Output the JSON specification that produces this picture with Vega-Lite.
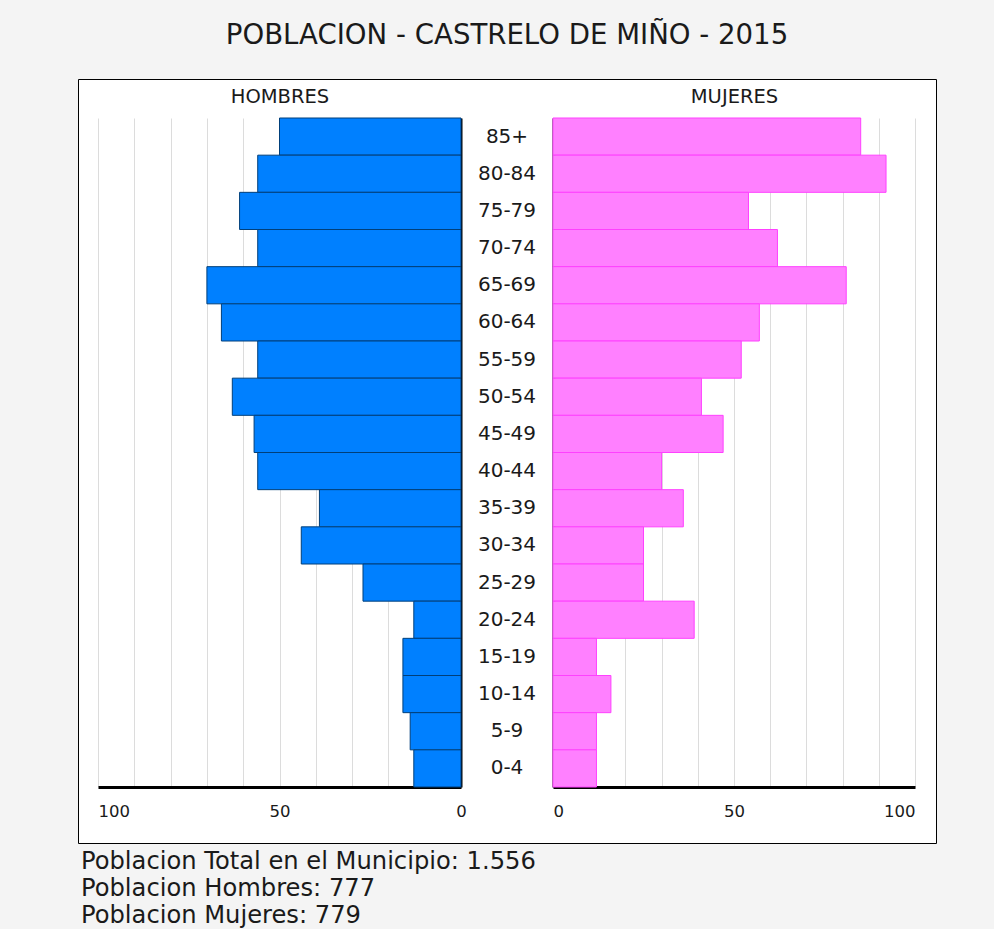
{
  "$schema": "https://vega.github.io/schema/vega-lite/v6.json",
  "background": "#f4f4f4",
  "padding": {"left": 77, "right": 57, "top": 21, "bottom": 0},
  "title": {
    "text": "POBLACION - CASTRELO DE MIÑO - 2015",
    "font": "DejaVu Sans",
    "fontSize": 27.6,
    "fontWeight": "normal",
    "color": "#1a1a1a",
    "anchor": "middle",
    "offset": 29
  },
  "spacing": 4,
  "vconcat": [
    {
      "width": 858,
      "height": 764,
      "view": {"stroke": "#000000", "strokeWidth": 1, "fill": "#ffffff"},
      "data": {
        "values": [
          {"age": "85+", "men": 50, "women": 85},
          {"age": "80-84", "men": 56, "women": 92},
          {"age": "75-79", "men": 61, "women": 54},
          {"age": "70-74", "men": 56, "women": 62},
          {"age": "65-69", "men": 70, "women": 81},
          {"age": "60-64", "men": 66, "women": 57},
          {"age": "55-59", "men": 56, "women": 52},
          {"age": "50-54", "men": 63, "women": 41},
          {"age": "45-49", "men": 57, "women": 47},
          {"age": "40-44", "men": 56, "women": 30},
          {"age": "35-39", "men": 39, "women": 36},
          {"age": "30-34", "men": 44, "women": 25},
          {"age": "25-29", "men": 27, "women": 25},
          {"age": "20-24", "men": 13, "women": 39},
          {"age": "15-19", "men": 16, "women": 12},
          {"age": "10-14", "men": 16, "women": 16},
          {"age": "5-9", "men": 14, "women": 12},
          {"age": "0-4", "men": 13, "women": 12}
        ]
      },
      "layer": [
        {
          "mark": {"type": "bar", "fill": "#0080ff", "stroke": "#003f7a", "strokeWidth": 1},
          "encoding": {
            "y": {
              "field": "age",
              "type": "ordinal",
              "sort": null,
              "scale": {"range": [39, 708], "paddingInner": 0, "paddingOuter": 0},
              "axis": {
                "orient": "left",
                "offset": -382.5,
                "title": null,
                "labels": false,
                "ticks": false,
                "tickSize": 0,
                "grid": false,
                "domain": true,
                "domainColor": "#000000",
                "domainWidth": 3
              }
            },
            "x": {
              "field": "men",
              "type": "quantitative",
              "scale": {"domain": [0, 100], "range": [383, 20]},
              "axis": {
                "orient": "top",
                "offset": -708,
                "values": [0, 10, 20, 30, 40, 50, 60, 70, 80, 90, 100],
                "labelExpr": "datum.value % 50 === 0 ? datum.label : ''",
                "labelFont": "DejaVu Sans",
                "labelFontSize": 16.5,
                "labelColor": "#1a1a1a",
                "labelAlign": {"condition": {"test": "datum.value === 100", "value": "left"}, "value": "center"},
                "labelBaseline": "middle",
                "labelPadding": -24,
                "ticks": false,
                "tickSize": 0,
                "grid": true,
                "gridColor": "#dcdcdc",
                "gridWidth": 1,
                "domain": true,
                "domainColor": "#000000",
                "domainWidth": 3,
                "title": "HOMBRES",
                "titleFont": "DejaVu Sans",
                "titleFontSize": 19.5,
                "titleFontWeight": "normal",
                "titleColor": "#1a1a1a",
                "titleBaseline": "middle",
                "titleY": -691
              }
            }
          }
        },
        {
          "mark": {"type": "bar", "fill": "#ff80ff", "stroke": "#ff40ff", "strokeWidth": 1},
          "encoding": {
            "y": {
              "field": "age",
              "type": "ordinal",
              "sort": null,
              "axis": {
                "orient": "right",
                "offset": -382.5,
                "title": null,
                "labels": true,
                "labelAlign": "center",
                "labelBaseline": "middle",
                "labelPadding": -47,
                "labelFont": "DejaVu Sans",
                "labelFontSize": 20,
                "labelColor": "#1a1a1a",
                "ticks": false,
                "tickSize": 0,
                "grid": false,
                "domain": true,
                "domainColor": "#000000",
                "domainWidth": 3
              }
            },
            "x": {
              "field": "women",
              "type": "quantitative",
              "scale": {"domain": [0, 100], "range": [475, 837]},
              "axis": {
                "orient": "top",
                "offset": -708,
                "values": [0, 10, 20, 30, 40, 50, 60, 70, 80, 90, 100],
                "labelExpr": "datum.value % 50 === 0 ? datum.label : ''",
                "labelFont": "DejaVu Sans",
                "labelFontSize": 16.5,
                "labelColor": "#1a1a1a",
                "labelFlush": true,
                "labelBaseline": "middle",
                "labelPadding": -24,
                "ticks": false,
                "tickSize": 0,
                "grid": true,
                "gridColor": "#dcdcdc",
                "gridWidth": 1,
                "domain": true,
                "domainColor": "#000000",
                "domainWidth": 3,
                "title": "MUJERES",
                "titleFont": "DejaVu Sans",
                "titleFontSize": 19.5,
                "titleFontWeight": "normal",
                "titleColor": "#1a1a1a",
                "titleBaseline": "middle",
                "titleY": -691
              }
            }
          }
        }
      ],
      "resolve": {
        "scale": {"x": "independent", "y": "shared"},
        "axis": {"x": "independent", "y": "independent"}
      }
    },
    {
      "width": 400,
      "height": 81,
      "view": {"stroke": null},
      "data": {
        "values": [
          {"order": 1, "line": "Poblacion Total en el Municipio: 1.556"},
          {"order": 2, "line": "Poblacion Hombres: 777"},
          {"order": 3, "line": "Poblacion Mujeres: 779"}
        ]
      },
      "mark": {"type": "text", "align": "left", "baseline": "middle", "font": "DejaVu Sans", "fontSize": 24.2, "color": "#1a1a1a", "dx": 3},
      "encoding": {
        "y": {"field": "line", "type": "ordinal", "sort": {"field": "order"}, "axis": null},
        "x": {"datum": 0, "type": "quantitative", "scale": {"domain": [0, 1]}, "axis": null},
        "text": {"field": "line"}
      }
    }
  ]
}
